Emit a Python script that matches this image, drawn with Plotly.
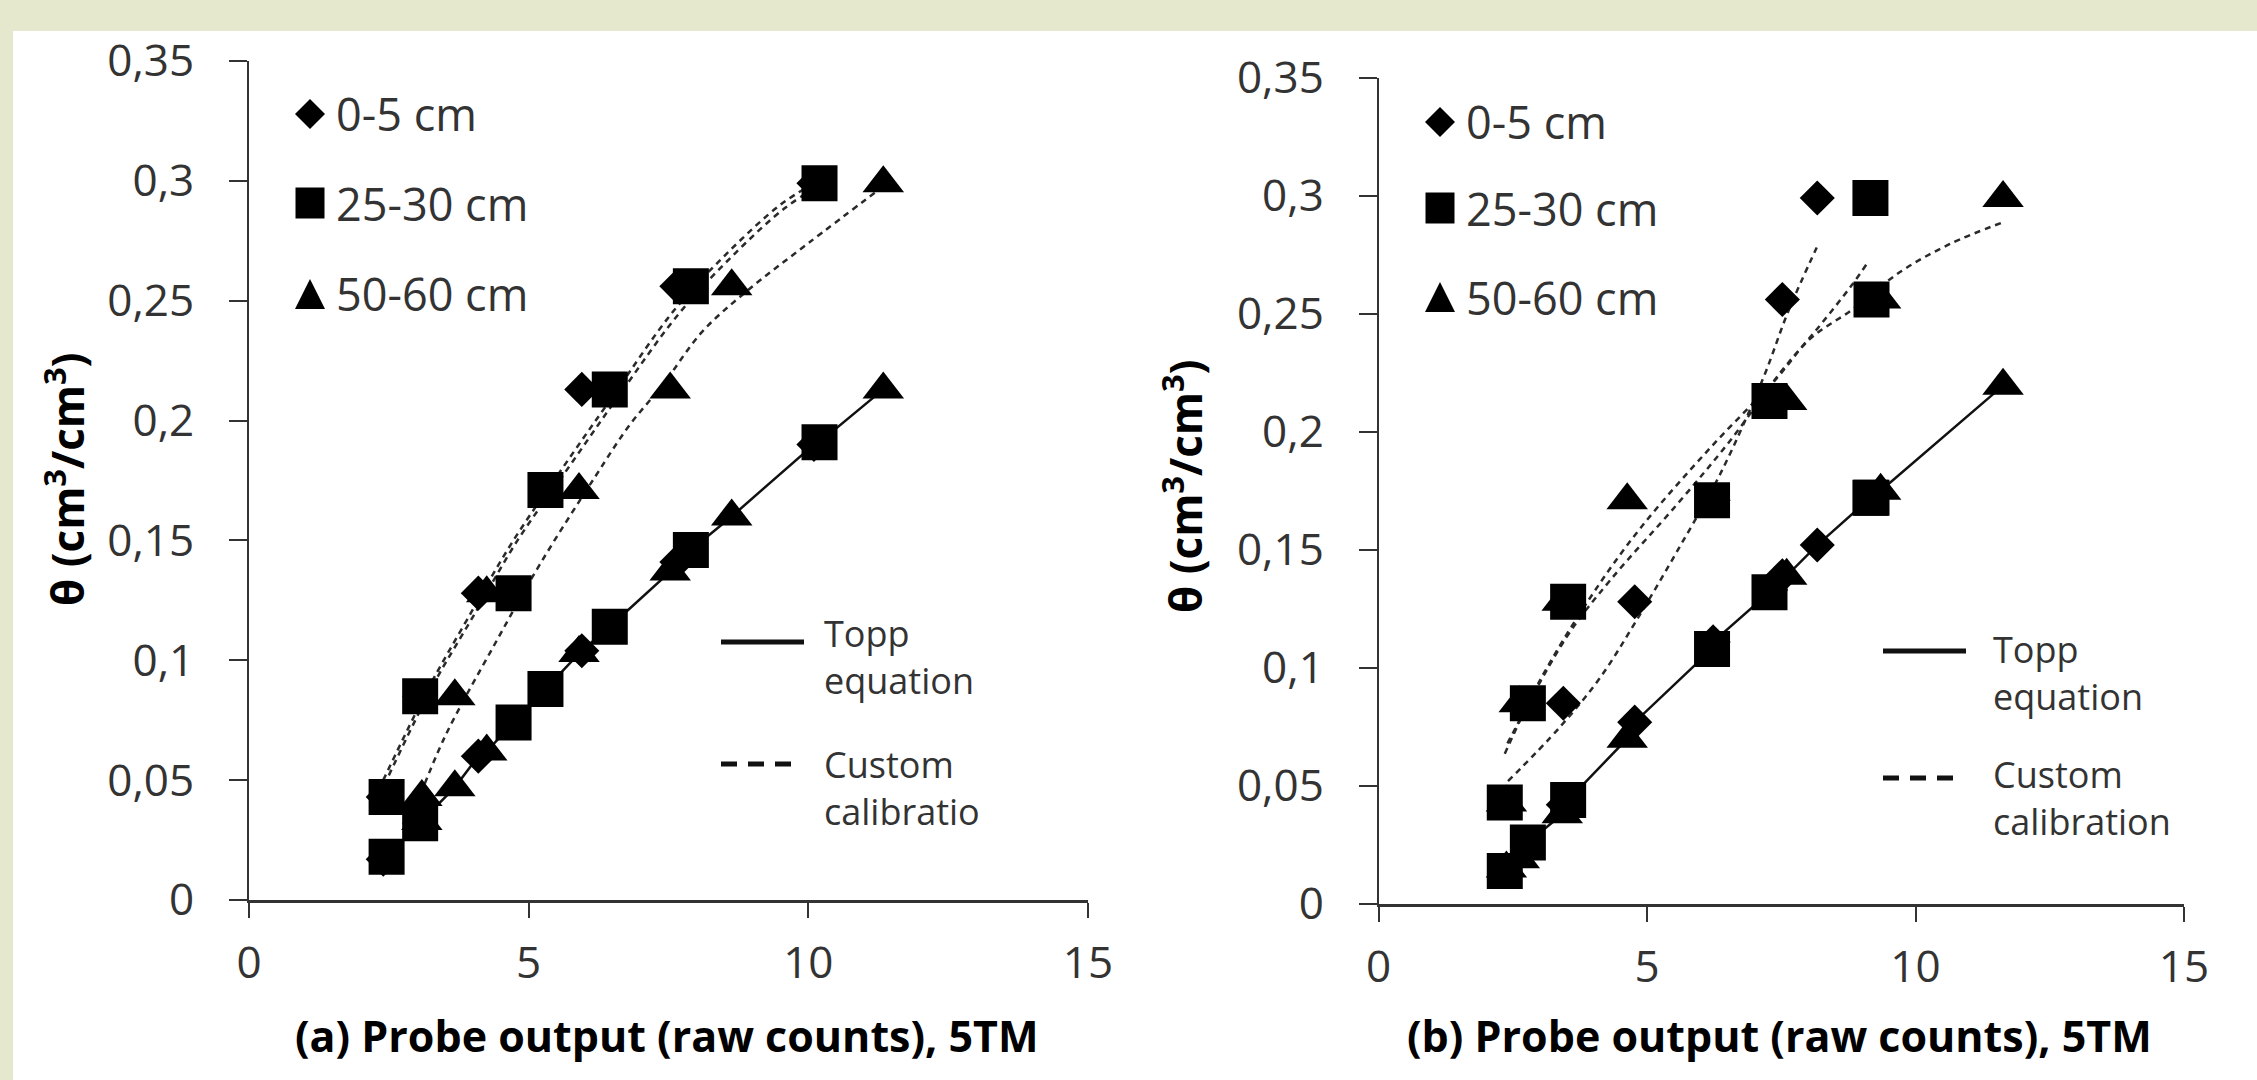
import plotly.graph_objects as go

W, H = 2257, 1080

# ---------------- data ----------------
levels = [0.043, 0.085, 0.128, 0.171, 0.213, 0.256, 0.299]

# panel (a)
a_diamond_x = [2.4, 3.05, 4.1, 5.3, 5.95, 7.65, 10.1]
a_square_x = [2.46, 3.06, 4.73, 5.3, 6.45, 7.9, 10.2]
a_triangle_x = [3.09, 3.68, 4.25, 5.9, 7.53, 8.63, 11.34]
a_diamond_topp = [0.017, 0.032, 0.060, 0.088, 0.104, 0.141, 0.190]
a_square_topp = [0.018, 0.032, 0.074, 0.088, 0.114, 0.146, 0.191]
a_triangle_topp = [0.033, 0.047, 0.062, 0.103, 0.137, 0.160, 0.213]

a_cal_diamond_x = [2.4, 3.2, 3.9, 4.7, 5.6, 6.5, 7.6, 8.6, 9.5, 10.1]
a_cal_diamond_y = [0.050, 0.088, 0.117, 0.149, 0.180, 0.210, 0.246, 0.271, 0.290, 0.299]
a_cal_square_x = [2.5, 3.3, 4.0, 4.8, 5.7, 6.6, 7.7, 8.7, 9.6, 10.2]
a_cal_square_y = [0.052, 0.090, 0.118, 0.150, 0.180, 0.210, 0.245, 0.270, 0.289, 0.298]
a_cal_triangle_x = [3.0, 3.5, 4.4, 5.2, 6.2, 6.8, 7.4, 8.1, 8.9, 10.0, 11.3]
a_cal_triangle_y = [0.040, 0.068, 0.107, 0.140, 0.177, 0.198, 0.215, 0.237, 0.254, 0.274, 0.297]

# panel (b)
b_diamond_x = [2.35, 3.44, 4.77, 6.23, 7.3, 7.52, 8.17]
b_square_x = [2.35, 2.78, 3.53, 6.21, 7.28, 9.18, 9.16]
b_triangle_x = [2.38, 2.62, 3.42, 4.63, 7.6, 9.35, 11.63]
b_diamond_topp = [0.014, 0.042, 0.077, 0.111, 0.133, 0.139, 0.152]
b_square_topp = [0.014, 0.026, 0.044, 0.108, 0.132, 0.172, 0.172]
b_triangle_topp = [0.015, 0.019, 0.038, 0.070, 0.139, 0.175, 0.2195]

b_cal_diamond_x = [2.41, 3.38, 4.13, 4.8, 5.55, 6.36, 7.16, 7.63, 8.16]
b_cal_diamond_y = [0.052, 0.075, 0.096, 0.120, 0.149, 0.182, 0.2225, 0.251, 0.278]
b_cal_square_x = [2.4, 3.5, 4.31, 5.55, 6.54, 7.48, 8.22, 8.81, 9.09]
b_cal_square_y = [0.068, 0.113, 0.137, 0.169, 0.196, 0.225, 0.245, 0.262, 0.271]
b_cal_triangle_x = [2.35, 3.0, 3.94, 4.87, 6.17, 7.41, 8.04, 8.84, 9.71, 10.64, 11.63]
b_cal_triangle_y = [0.0636, 0.0945, 0.1297, 0.159, 0.193, 0.2225, 0.2394, 0.252, 0.2676, 0.2795, 0.2887]

depth_labels = ["0-5 cm", "25-30 cm", "50-60 cm"]
x_tick_vals = [0, 5, 10, 15]
x_titles = ["(a) Probe output (raw counts), 5TM", "(b) Probe output (raw counts), 5TM"]
y_title = "θ (cm<sup>3</sup>/cm<sup>3</sup>)"
line_labels_a = ["Topp<br>equation", "Custom<br>calibratio"]
line_labels_b = ["Topp<br>equation", "Custom<br>calibration"]

# ---------------- styling ----------------
FONT = "Open Sans"
INK = "#333333"
BEIGE = "#E6E8CE"
symbols = ["diamond", "square", "triangle-up"]
sizes = [27, 36, 36]


def fx(px):
    return px / W


def fy(py):
    return 1 - py / H


fig = go.Figure()

panels = [
    dict(xa="x", ya="y",
         cx=[a_diamond_x, a_square_x, a_triangle_x],
         topp=[a_diamond_topp, a_square_topp, a_triangle_topp],
         calx=[a_cal_diamond_x, a_cal_square_x, a_cal_triangle_x],
         caly=[a_cal_diamond_y, a_cal_square_y, a_cal_triangle_y]),
    dict(xa="x2", ya="y2",
         cx=[b_diamond_x, b_square_x, b_triangle_x],
         topp=[b_diamond_topp, b_square_topp, b_triangle_topp],
         calx=[b_cal_diamond_x, b_cal_square_x, b_cal_triangle_x],
         caly=[b_cal_diamond_y, b_cal_square_y, b_cal_triangle_y]),
]

for p in panels:
    # custom calibration fits (dashed)
    for k in range(3):
        fig.add_trace(go.Scatter(
            x=p["calx"][k], y=p["caly"][k], mode="lines", xaxis=p["xa"], yaxis=p["ya"],
            line=dict(color="#2a2a2a", width=2.5, dash="6px,5px", shape="spline", smoothing=1.0),
            showlegend=False, hoverinfo="skip"))
    # Topp equation (one solid line through all Topp points of the panel)
    pts = sorted(zip(p["cx"][0] + p["cx"][1] + p["cx"][2],
                     p["topp"][0] + p["topp"][1] + p["topp"][2]))
    fig.add_trace(go.Scatter(
        x=[q[0] for q in pts], y=[q[1] for q in pts], mode="lines",
        xaxis=p["xa"], yaxis=p["ya"],
        line=dict(color="#111111", width=2.5),
        showlegend=False, hoverinfo="skip"))
    # markers
    for k in range(3):
        fig.add_trace(go.Scatter(
            x=p["cx"][k] + p["cx"][k], y=levels + p["topp"][k], mode="markers",
            xaxis=p["xa"], yaxis=p["ya"],
            marker=dict(symbol=symbols[k], size=sizes[k], color="black",
                        line=dict(width=0)),
            name=depth_labels[k], showlegend=False))

axis_common = dict(
    showgrid=False, zeroline=False, showline=True, linecolor=INK, automargin=False,
    ticks="outside", tickcolor=INK, tickfont=dict(family=FONT, size=44, color=INK),
)

fig.update_layout(
    template="none",
    width=W, height=H, autosize=False,
    margin=dict(l=0, r=0, t=0, b=0, pad=0),
    paper_bgcolor=BEIGE, plot_bgcolor="white",
    separators=", ",
    showlegend=False,
    xaxis=dict(domain=[fx(249), fx(1088)], range=[0, 15], anchor="y",
               tickvals=x_tick_vals, ticklen=15, tickwidth=2, linewidth=3,
               ticklabelstandoff=7, **axis_common),
    yaxis=dict(domain=[fy(900), fy(61)], range=[0, 0.35], anchor="x",
               dtick=0.05, tick0=0, ticklen=18, tickwidth=2, linewidth=2,
               ticklabelstandoff=26, **axis_common),
    xaxis2=dict(domain=[fx(1378.6), fx(2184)], range=[0, 15], anchor="y2",
                tickvals=x_tick_vals, ticklen=15, tickwidth=2, linewidth=3,
                ticklabelstandoff=7, **axis_common),
    yaxis2=dict(domain=[fy(904), fy(77.5)], range=[0, 0.35], anchor="x2",
                dtick=0.05, tick0=0, ticklen=18, tickwidth=2, linewidth=2,
                ticklabelstandoff=26, **axis_common),
)

shapes = []
# white chart area over beige frame
shapes.append(dict(type="rect", xref="paper", yref="paper", x0=fx(13), x1=1, y0=0, y1=fy(31),
                   fillcolor="white", line=dict(width=0), layer="below"))


def diamond_path(cx, cy, hw, hh):
    return (f"M {fx(cx - hw)} {fy(cy)} L {fx(cx)} {fy(cy - hh)} "
            f"L {fx(cx + hw)} {fy(cy)} L {fx(cx)} {fy(cy + hh)} Z")


def square_path(cx, cy, hw, hh):
    return (f"M {fx(cx - hw)} {fy(cy - hh)} L {fx(cx + hw)} {fy(cy - hh)} "
            f"L {fx(cx + hw)} {fy(cy + hh)} L {fx(cx - hw)} {fy(cy + hh)} Z")


def triangle_path(cx, cy, hw, hh):
    return (f"M {fx(cx - hw)} {fy(cy + hh)} L {fx(cx + hw)} {fy(cy + hh)} "
            f"L {fx(cx)} {fy(cy - hh)} Z")


annotations = []
legend_sets = [
    dict(mx=310, tx=334, ys=[114, 203, 294]),
    dict(mx=1440, tx=1464, ys=[122, 208, 297]),
]
for ls in legend_sets:
    paths = [diamond_path(ls["mx"], ls["ys"][0], 15, 15),
             square_path(ls["mx"], ls["ys"][1], 14.5, 15.5),
             triangle_path(ls["mx"], ls["ys"][2], 15, 15)]
    for pth in paths:
        shapes.append(dict(type="path", xref="paper", yref="paper", path=pth,
                           fillcolor="black", line=dict(width=0)))
    for lab, yy in zip(depth_labels, ls["ys"]):
        annotations.append(dict(xref="paper", yref="paper", x=fx(ls["tx"]), y=fy(yy),
                                xanchor="left", yanchor="middle", showarrow=False, text=lab,
                                font=dict(family=FONT, size=45, color=INK)))

# Topp / Custom line keys
line_keys = [
    dict(x0=721, x1=804, ys=642, yd=764, tx=822, ty=[657, 788], labels=line_labels_a),
    dict(x0=1883, x1=1966, ys=651, yd=778, tx=1991, ty=[673, 798], labels=line_labels_b),
]
for lk in line_keys:
    shapes.append(dict(type="line", xref="paper", yref="paper",
                       x0=fx(lk["x0"]), x1=fx(lk["x1"]), y0=fy(lk["ys"]), y1=fy(lk["ys"]),
                       line=dict(color="#111111", width=5)))
    shapes.append(dict(type="line", xref="paper", yref="paper",
                       x0=fx(lk["x0"]), x1=fx(lk["x1"] - 6), y0=fy(lk["yd"]), y1=fy(lk["yd"]),
                       line=dict(color="#111111", width=5, dash="16px,11px")))
    for lab, yy in zip(lk["labels"], lk["ty"]):
        annotations.append(dict(xref="paper", yref="paper", x=fx(lk["tx"]), y=fy(yy),
                                xanchor="left", yanchor="middle", align="left",
                                showarrow=False, text=lab,
                                font=dict(family=FONT, size=36, color=INK)))

# axis titles
for t, cx in zip(x_titles, [666, 1779]):
    annotations.append(dict(xref="paper", yref="paper", x=fx(cx), y=fy(1035),
                            xanchor="center", yanchor="middle", showarrow=False,
                            text=f"<b>{t}</b>", font=dict(family=FONT, size=43, color="black")))
for cx, cy in [(65, 479), (1183, 486)]:
    annotations.append(dict(xref="paper", yref="paper", x=fx(cx), y=fy(cy),
                            xanchor="center", yanchor="middle", showarrow=False, textangle=-90,
                            text=f"<b>{y_title}</b>", font=dict(family=FONT, size=44, color="black")))

fig.update_layout(shapes=shapes, annotations=annotations)
fig.write_html(
    "out.html",
    config={"displayModeBar": False},
    post_script="document.body.style.margin='0';document.body.style.overflow='hidden';",
)
